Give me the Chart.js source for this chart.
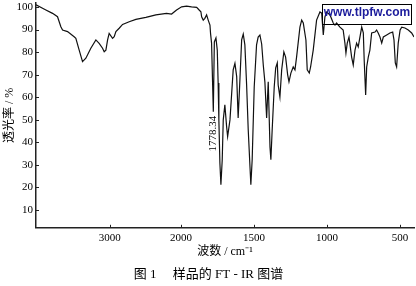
<!DOCTYPE html>
<html>
<head>
<meta charset="utf-8">
<script src="https://cdn.jsdelivr.net/npm/chart.js@4.4.0/dist/chart.umd.min.js"></script>
<style>
  body { margin: 0; background: #fff; }
  #wrap { position: relative; width: 416px; height: 286px; }
  #mark {
    position: absolute; left: 322px; top: 4px; width: 88px; height: 19px;
    border: 1px solid #000; color: #1c1c9c; text-align: center; line-height: 19px;
    font: bold 12px "Liberation Sans", Arial, sans-serif;
  }
</style>
</head>
<body>
<div id="wrap">
  <canvas id="ftir" width="416" height="286"></canvas>
  <div id="mark">www.tlpfw.com</div>
</div>
<script>
// 波数 (cm-1) 与透光率 (%)
const wavenumbers = [
  4040, 3901, 3807, 3737, 3690, 3666, 3596, 3503, 3479, 3432,
  3385, 3338, 3268, 3197, 3151, 3103, 3080, 3056, 3032, 3010,
  2962, 2939, 2915, 2869, 2821, 2728, 2634, 2493, 2352, 2203,
  2131, 2061, 1995, 1961, 1927, 1892, 1875, 1863, 1858, 1847,
  1836, 1824, 1813, 1801, 1797, 1790, 1778, 1771, 1760, 1751,
  1745, 1740, 1733, 1726, 1717, 1710, 1699, 1687, 1680, 1664,
  1642, 1630, 1618, 1608, 1599, 1584, 1573, 1562, 1550, 1539,
  1527, 1521, 1512, 1498, 1482, 1471, 1459, 1447, 1436, 1425,
  1413, 1402, 1390, 1384, 1375, 1361, 1351, 1340, 1334, 1322,
  1310, 1295, 1283, 1269, 1260, 1247, 1231, 1219, 1208, 1185,
  1173, 1162, 1144, 1135, 1121, 1112, 1094, 1071, 1048, 1036,
  1025, 1014, 1002, 979, 957, 945, 934, 911, 889, 877,
  870, 861, 849, 831, 820, 808, 797, 786, 762, 751,
  745, 735, 728, 717, 706, 694, 671, 660, 649, 637,
  625, 614, 591, 569, 550, 541, 532, 523, 512, 499,
  488, 466, 443, 420, 404
];
const transmittance = [
  101.0, 98.7, 97.2, 95.7, 91.3, 89.8, 89.1, 86.8, 86.1, 80.9,
  75.8, 77.3, 81.7, 85.4, 83.9, 81.7, 80.2, 80.9, 85.4, 88.3,
  86.1, 86.8, 89.1, 90.6, 92.3, 93.5, 94.5, 95.4, 96.5, 97.2,
  96.9, 98.7, 100.1, 100.4, 100.1, 99.9, 98.7, 97.9, 95.7, 94.2,
  95.0, 96.5, 94.2, 92.0, 88.3, 84.0, 53.5, 84.5, 86.3, 80.9,
  66.3, 49.9, 30.8, 21.1, 32.2, 49.9, 56.6, 46.9, 42.5, 49.9,
  72.1, 75.0, 69.1, 50.8, 63.2, 85.4, 88.0, 83.2, 65.4, 45.5,
  29.1, 21.1, 32.2, 64.5, 83.2, 86.7, 87.6, 83.6, 74.3, 66.8,
  50.8, 66.8, 37.9, 32.2, 45.5, 64.5, 73.0, 75.2, 65.4, 60.1,
  72.1, 80.1, 77.8, 69.9, 66.8, 70.7, 73.4, 72.1, 77.8, 91.1,
  94.2, 92.9, 85.4, 72.1, 70.7, 73.4, 80.9, 94.2, 97.8, 97.3,
  87.6, 95.6, 97.8, 96.5, 92.9, 92.0, 92.9, 91.1, 89.8, 84.0,
  79.6, 84.0, 86.7, 77.8, 74.3, 80.9, 84.0, 82.3, 91.1, 88.5,
  76.5, 61.0, 73.4, 77.8, 80.9, 88.5, 88.9, 89.8, 88.5, 86.7,
  84.0, 86.7, 87.6, 88.5, 88.9, 85.4, 75.2, 73.4, 84.0, 89.8,
  91.1, 90.7, 89.8, 88.5, 86.7
];
const xTickLabels = [3000, 2000, 1500, 1000, 500];
const yTickLabels = [10, 20, 30, 40, 50, 60, 70, 80, 90, 100];
const peakWn = 1778;
const peakLabel = '1778.34';

const xTitle = '波数 / cm⁻¹';
const yTitle = '透光率 / %';
const caption = '图 1　 样品的 FT - IR 图谱';

// 2000 cm-1 以上横轴压缩一半（红外谱图常用刻度）
const SPLIT = 2000;
const HIGH_RATIO = 71 / 146;
function toPos(wn) {
  return wn >= SPLIT ? -(wn - SPLIT) * HIGH_RATIO : SPLIT - wn;
}

const serif = '"Liberation Serif", "Noto Sans CJK SC", serif';
const ink = '#000';

// 向内的小刻度 + 峰位标注
const ftirMarks = {
  id: 'ftirMarks',
  afterDatasetsDraw(chart) {
    const { ctx, chartArea, scales: { x, y } } = chart;
    ctx.save();
    ctx.strokeStyle = '#222';
    ctx.lineWidth = 1;
    ctx.beginPath();
    x.ticks.forEach(t => {
      const px = Math.round(x.getPixelForValue(t.value)) + 0.5;
      ctx.moveTo(px, chartArea.bottom);
      ctx.lineTo(px, chartArea.bottom - 3);
    });
    y.ticks.forEach(t => {
      const py = Math.round(y.getPixelForValue(t.value)) + 0.5;
      ctx.moveTo(chartArea.left, py);
      ctx.lineTo(chartArea.left + 3, py);
    });
    ctx.stroke();

    const i = wavenumbers.indexOf(peakWn);
    const px = x.getPixelForValue(toPos(peakWn));
    const py = y.getPixelForValue(transmittance[i]);
    ctx.font = '11px ' + serif;
    ctx.fillStyle = ink;
    const w = ctx.measureText(peakLabel).width;
    ctx.translate(px, py + 4 + w / 2);
    ctx.rotate(-Math.PI / 2);
    ctx.textAlign = 'center';
    ctx.textBaseline = 'middle';
    ctx.fillText(peakLabel, 0, 0);
    ctx.restore();
  }
};

new Chart(document.getElementById('ftir'), {
  type: 'line',
  data: {
    datasets: [{
      data: wavenumbers.map((w, i) => ({ x: toPos(w), y: transmittance[i] })),
      borderColor: '#111',
      borderWidth: 1.2,
      pointRadius: 0,
      tension: 0,
      fill: false
    }]
  },
  options: {
    responsive: false,
    animation: false,
    layout: { padding: { left: 3, right: 2, top: 3, bottom: 0 } },
    plugins: {
      legend: { display: false },
      tooltip: { enabled: false },
      title: {
        display: true,
        position: 'bottom',
        text: caption,
        color: ink,
        font: { family: serif, size: 13, weight: 'normal' },
        padding: { top: 7, bottom: 4 }
      }
    },
    scales: {
      x: {
        type: 'linear',
        min: toPos(4040),
        max: toPos(404),
        grid: { display: false, drawTicks: false },
        border: { display: true, color: '#222', width: 1.5 },
        afterBuildTicks: s => { s.ticks = xTickLabels.map(w => ({ value: toPos(w) })); },
        ticks: {
          autoSkip: false, maxRotation: 0, padding: 4, color: ink,
          font: { family: serif, size: 11 },
          callback: (v, i) => xTickLabels[i]
        },
        title: {
          display: true, text: xTitle, color: ink,
          font: { family: serif, size: 12 },
          padding: { top: -4, bottom: 0 }
        }
      },
      y: {
        min: 2,
        max: 101.8,
        grid: { display: false, drawTicks: false },
        border: { display: true, color: '#222', width: 1.5 },
        afterBuildTicks: s => { s.ticks = yTickLabels.map(v => ({ value: v })); },
        afterFit: s => { s.width = 33; s.paddingTop = 0; s.paddingBottom = 0; },
        ticks: {
          autoSkip: false, padding: 3, color: ink,
          font: { family: serif, size: 11 }
        },
        title: {
          display: true, text: yTitle, color: ink,
          font: { family: serif, size: 12 },
          padding: { top: 0, bottom: 0 }
        }
      }
    }
  },
  plugins: [ftirMarks]
});
</script>
</body>
</html>
